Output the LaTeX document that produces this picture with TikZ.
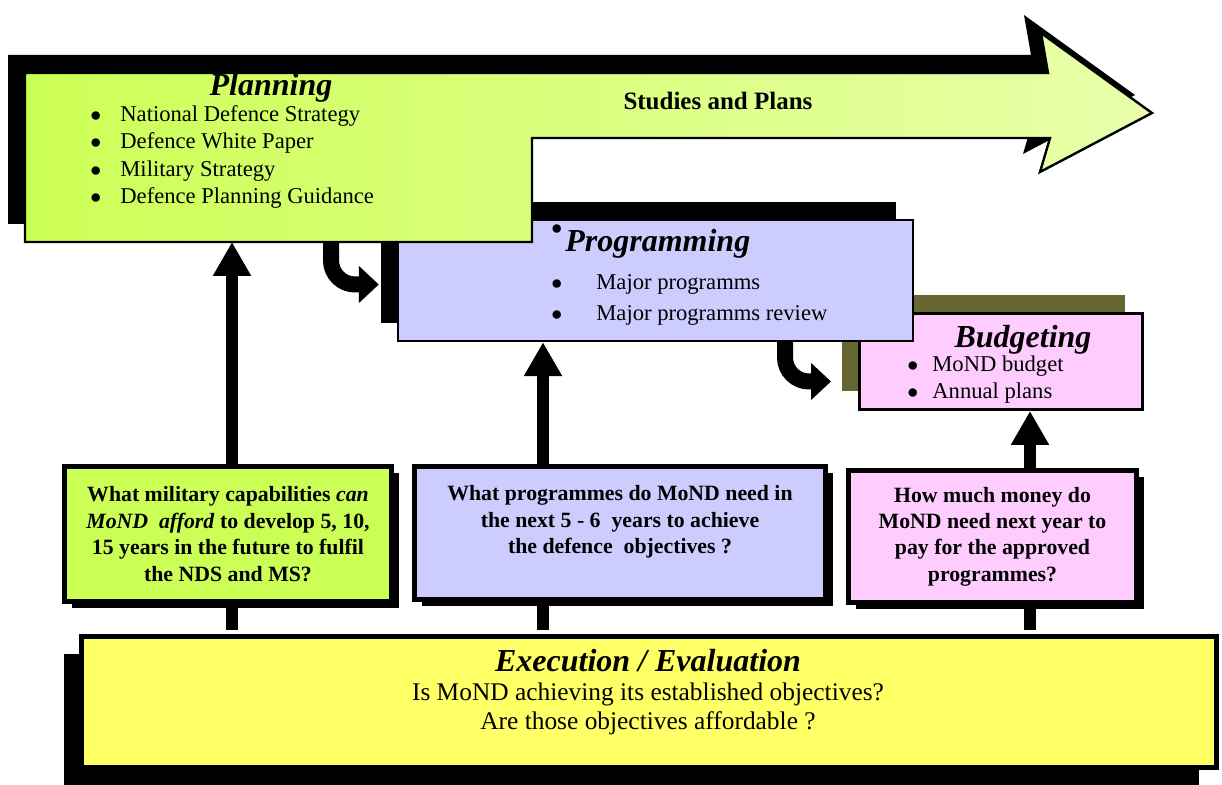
\documentclass[tikz,border=0pt]{standalone}
\usepackage{fontspec}
\setmainfont{Liberation Serif}
\usetikzlibrary{arrows.meta,shadows}
\definecolor{planleft}{HTML}{CCFF55}
\definecolor{planright}{HTML}{E8FFAA}
\definecolor{progblue}{HTML}{CCCCFF}
\definecolor{budpink}{HTML}{FFCCFF}
\definecolor{budolive}{HTML}{666633}
\definecolor{execyellow}{HTML}{FFFF66}
\newcommand{\itembul}[1]{\makebox[#1][l]{$\bullet$}}
\begin{document}
\begin{tikzpicture}[x=0.5pt,y=-0.5pt,
    title/.style={font=\fontsize{16}{19}\selectfont\bfseries\itshape,inner sep=0pt},
    itemlist/.style={align=left,inner sep=0pt,font=\fontsize{11.3}{13.6}\selectfont},
    stagebox/.style={draw=black,line width=1.2pt,inner sep=0pt},
    qbox/.style={draw=black,line width=2.5pt,align=center,inner sep=0pt,
        font=\fontsize{10.9}{13.2}\selectfont\bfseries,
        drop shadow={shadow xshift=3.5pt,shadow yshift=-3.5pt,opacity=1,fill=black}},
    upline/.style={line width=6pt,-{Triangle[width=18pt,length=17pt]}},
    stubline/.style={line width=6pt,shorten >=2pt},
    hookline/.style={line width=8pt,rounded corners=12pt,-{Triangle[width=18pt,length=10pt]}}]
  \useasboundingbox (0,0) rectangle (1222,785);
  % stages
  \node[stagebox,line width=1.5pt,fill=budpink,minimum width=141.5pt,minimum height=48pt,
      drop shadow={shadow xshift=-9pt,shadow yshift=9pt,opacity=1,fill=budolive}] (budget) at (1001,361.5) {};
  \node[stagebox,fill=progblue,minimum width=257.5pt,minimum height=60.5pt,
      drop shadow={shadow xshift=-8.5pt,shadow yshift=9pt,opacity=1,fill=black}] (prog) at (655.5,280.5) {};
  \def\planpath{(25,73) -- (1048,73) -- (1041,33) -- (1152,113) -- (1040,172) -- (1050,138)
      -- (532,138) -- (532,242) -- (25,242) -- cycle}
  \fill[black,shift={(-17,-18)}] \planpath;
  \draw[line width=1.2pt,left color=planleft,right color=planright] \planpath;
  \coordinate (planS) at (0,242);
  \node[title,anchor=base] (plantitle) at (271,96) {Planning};
  \node[itemlist,anchor=west] (planlist) at (90,157)
      {\itembul{15pt}National Defence Strategy\\
       \itembul{15pt}Defence White Paper\\
       \itembul{15pt}Military Strategy\\
       \itembul{15pt}Defence Planning Guidance};
  \node[font=\fontsize{12.5}{15}\selectfont\bfseries,inner sep=0pt] (studies) at (718,101) {Studies and Plans};
  \node[title,anchor=base west] (progtitle) at (551,252)
      {\raisebox{8.5pt}{\fontsize{11}{11}\selectfont\mdseries\upshape$\bullet$}\hspace{1.5pt}Programming};
  \node[itemlist,font=\fontsize{11.3}{15.5}\selectfont,anchor=west] (proglist) at (551,299.5)
      {\itembul{22.5pt}Major programms\\
       \itembul{22.5pt}Major programms review};
  \node[title,anchor=base] (budtitle) at (1023,348) {Budgeting};
  \node[itemlist,anchor=west] (budlist) at (907,379.5)
      {\itembul{12.5pt}MoND budget\\
       \itembul{12.5pt}Annual plans};
  % questions
  \node[qbox,fill=planleft,minimum width=163.5pt,minimum height=67.5pt] (q1) at (228,534)
      {What military capabilities \textit{can}\\ \textit{MoND\ \ afford} to develop 5, 10,\\
       15 years in the future to fulfil\\ the NDS and MS?};
  \node[qbox,fill=progblue,minimum width=205.5pt,minimum height=66.5pt] (q2) at (620,533)
      {What programmes do MoND need in\\ the next 5 - 6\ \ years to achieve\\
       the defence\ \ objectives ?\\ \mbox{}};
  \node[qbox,fill=budpink,minimum width=144pt,minimum height=66pt] (q3) at (992.5,536.5)
      {How much money do\\ MoND need next year to\\ pay for the approved\\ programmes?};
  % execution
  \node[draw=black,line width=2.5pt,fill=execyellow,minimum width=567.5pt,minimum height=65.5pt,
      drop shadow={shadow xshift=-9pt,shadow yshift=-9pt,opacity=1,fill=black}] (exec) at (649,702) {};
  \node[title,anchor=base] (exectitle) at (648,672) {Execution / Evaluation};
  \node[align=center,inner sep=0pt,font=\fontsize{12.7}{14.2}\selectfont] (execbody) at (648,709)
      {Is MoND achieving its established objectives?\\ Are those objectives affordable ?};
  % connectors
  \draw[upline] (232,0 |- q1.north) -- (232,0 |- planS);
  \draw[upline] (543,0 |- q2.north) -- (543,0 |- prog.south);
  \draw[upline] (1030,0 |- q3.north) -- (1030,0 |- budget.south);
  \draw[stubline] (232,0 |- q1.south) -- (232,0 |- exec.north);
  \draw[stubline] (543,0 |- q2.south) -- (543,0 |- exec.north);
  \draw[stubline] (1030,0 |- q3.south) -- (1030,0 |- exec.north);
  \draw[hookline] (331,0 |- planS) |- ([xshift=-9pt,yshift=-2pt]prog.west);
  \draw[hookline] (785,0 |- prog.south) |- ([xshift=-13.5pt,yshift=-10pt]budget.west);
\end{tikzpicture}
\end{document}
